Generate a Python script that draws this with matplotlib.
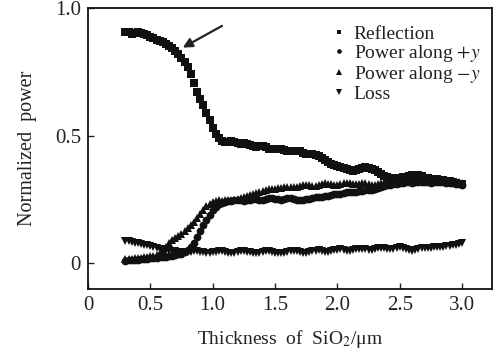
import numpy as np
import matplotlib
matplotlib.use("Agg")
import matplotlib.pyplot as plt

plt.rcParams['font.family'] = ['Liberation Serif', 'DejaVu Serif']
plt.rcParams['mathtext.fontset'] = 'stix'

# SiO2 thickness grid (um), step 0.025 from 0.3 to 3.0
thickness = np.round(np.arange(0.300, 3.0001, 0.025), 3)

reflection = [
    0.905, 0.905, 0.900, 0.902, 0.905, 0.903, 0.898, 0.893, 0.888, 0.882,
    0.876, 0.870, 0.865, 0.858, 0.852, 0.843, 0.833, 0.820, 0.805, 0.790,
    0.770, 0.740, 0.705, 0.670, 0.645, 0.620, 0.590, 0.560, 0.530, 0.505,
    0.490, 0.480, 0.474, 0.476, 0.478, 0.475, 0.470, 0.468, 0.469, 0.467,
    0.462, 0.458, 0.457, 0.459, 0.458, 0.454, 0.449, 0.446, 0.447, 0.449,
    0.448, 0.444, 0.440, 0.438, 0.440, 0.441, 0.438, 0.433, 0.429, 0.427,
    0.426, 0.424, 0.420, 0.414, 0.406, 0.397, 0.389, 0.383, 0.379, 0.375,
    0.371, 0.367, 0.364, 0.363, 0.365, 0.369, 0.373, 0.375, 0.374, 0.370,
    0.364, 0.357, 0.349, 0.342, 0.337, 0.334, 0.333, 0.334, 0.335, 0.336,
    0.338, 0.341, 0.345, 0.347, 0.345, 0.340, 0.335, 0.332, 0.331, 0.330,
    0.328, 0.326, 0.325, 0.323, 0.320, 0.317, 0.314, 0.312, 0.311,
]

power_plus = [
    0.010, 0.011, 0.012, 0.013, 0.014, 0.015, 0.016, 0.017, 0.018, 0.019,
    0.020, 0.022, 0.023, 0.025, 0.027, 0.029, 0.031, 0.034, 0.037, 0.042,
    0.050, 0.062, 0.080, 0.102, 0.125, 0.148, 0.170, 0.190, 0.207, 0.220,
    0.230, 0.237, 0.241, 0.243, 0.244, 0.246, 0.248, 0.247, 0.245, 0.246,
    0.249, 0.251, 0.250, 0.248, 0.248, 0.251, 0.254, 0.255, 0.253, 0.250,
    0.249, 0.251, 0.254, 0.254, 0.251, 0.248, 0.247, 0.249, 0.252, 0.252,
    0.255, 0.258, 0.259, 0.260, 0.262, 0.265, 0.268, 0.270, 0.271, 0.272,
    0.274, 0.277, 0.279, 0.279, 0.280, 0.282, 0.284, 0.285, 0.286, 0.287,
    0.290, 0.294, 0.298, 0.302, 0.305, 0.307, 0.309, 0.311, 0.313, 0.315,
    0.316, 0.316, 0.315, 0.316, 0.318, 0.319, 0.318, 0.316, 0.315, 0.316,
    0.318, 0.318, 0.316, 0.314, 0.313, 0.313, 0.312, 0.310, 0.308,
]

power_minus = [
    0.015, 0.016, 0.017, 0.018, 0.019, 0.020, 0.022, 0.024, 0.026, 0.029,
    0.033, 0.040, 0.050, 0.062, 0.077, 0.090, 0.100, 0.108, 0.116, 0.125,
    0.136, 0.148, 0.160, 0.175, 0.192, 0.208, 0.222, 0.233, 0.240, 0.244,
    0.246, 0.245, 0.246, 0.248, 0.249, 0.248, 0.250, 0.254, 0.258, 0.262,
    0.266, 0.270, 0.275, 0.280, 0.284, 0.287, 0.289, 0.290, 0.291, 0.293,
    0.296, 0.299, 0.300, 0.300, 0.299, 0.300, 0.303, 0.306, 0.307, 0.305,
    0.303, 0.304, 0.307, 0.311, 0.313, 0.312, 0.309, 0.307, 0.308, 0.311,
    0.314, 0.315, 0.313, 0.310, 0.309, 0.311, 0.313, 0.313, 0.311, 0.308,
    0.308, 0.310, 0.313, 0.315, 0.318, 0.322, 0.326, 0.330, 0.333, 0.337,
    0.341, 0.344, 0.345, 0.343, 0.339, 0.335, 0.331, 0.330, 0.331, 0.331,
    0.329, 0.326, 0.323, 0.322, 0.323, 0.322, 0.319, 0.316, 0.315,
]

loss = [
    0.088, 0.085, 0.083, 0.080, 0.078, 0.075, 0.072, 0.069, 0.066, 0.063,
    0.060, 0.057, 0.054, 0.051, 0.049, 0.047, 0.046, 0.045, 0.044, 0.044,
    0.043, 0.045, 0.047, 0.047, 0.045, 0.042, 0.040, 0.040, 0.042, 0.045,
    0.047, 0.046, 0.043, 0.040, 0.039, 0.040, 0.043, 0.046, 0.047, 0.045,
    0.042, 0.039, 0.039, 0.041, 0.044, 0.047, 0.047, 0.045, 0.041, 0.039,
    0.039, 0.041, 0.044, 0.047, 0.048, 0.046, 0.043, 0.040, 0.040, 0.042,
    0.046, 0.049, 0.050, 0.048, 0.045, 0.044, 0.046, 0.050, 0.053, 0.054,
    0.052, 0.049, 0.048, 0.050, 0.054, 0.057, 0.057, 0.054, 0.051, 0.051,
    0.054, 0.058, 0.060, 0.059, 0.056, 0.055, 0.057, 0.061, 0.063, 0.061,
    0.056, 0.051, 0.049, 0.051, 0.055, 0.058, 0.059, 0.058, 0.060, 0.062,
    0.064, 0.064, 0.065, 0.067, 0.068, 0.069, 0.071, 0.074, 0.078,
]

labels = ["Reflection", "Power along $+y$", "Power along $-y$", "Loss"]
markers = ["s", "o", "^", "v"]
sizes = [5.2, 5.6, 6.2, 6.2]

fig = plt.figure(figsize=(5.01, 3.5), dpi=100)
ax = fig.add_axes([0.1756, 0.174, 0.8064, 0.803])

for ys, lab, m, s in zip([reflection, power_plus, power_minus, loss], labels, markers, sizes):
    ax.plot(thickness, ys, linestyle='none', marker=m, markersize=s,
            color='#111111', markeredgewidth=0, label=lab)

ax.annotate("", xy=(0.76, 0.845), xytext=(1.075, 0.93),
            arrowprops=dict(arrowstyle='-|>', color='#222222', lw=1.6,
                            mutation_scale=14, shrinkA=0, shrinkB=0))

ax.set_xlim(0, 3.24)
ax.set_ylim(-0.102, 1.0)
ax.set_xticks([0, 0.5, 1.0, 1.5, 2.0, 2.5, 3.0])
ax.set_xticklabels(["0", "0.5", "1.0", "1.5", "2.0", "2.5", "3.0"])
ax.set_yticks([0, 0.5, 1.0])
ax.set_yticklabels(["0", "0.5", "1.0"])
ax.tick_params(direction='in', length=4, width=1, labelsize=15, pad=5,
               colors='#222222')
for sp in ax.spines.values():
    sp.set_linewidth(1.3)
    sp.set_color('#111111')

ax.set_xlabel("Thickness  of  SiO$_2$/\u03bcm", fontsize=14, color='#222222', labelpad=9)
ax.set_ylabel("Normalized  power", fontsize=14.5, color='#222222', labelpad=13)

leg = ax.legend(loc='upper left', bbox_to_anchor=(0.59, 0.965), frameon=False,
                fontsize=14, handlelength=0.5, handletextpad=0.5,
                labelspacing=0.0, markerscale=0.6, borderaxespad=0)
for t in leg.get_texts():
    t.set_color('#222222')

fig.savefig("out.png", dpi=100)
